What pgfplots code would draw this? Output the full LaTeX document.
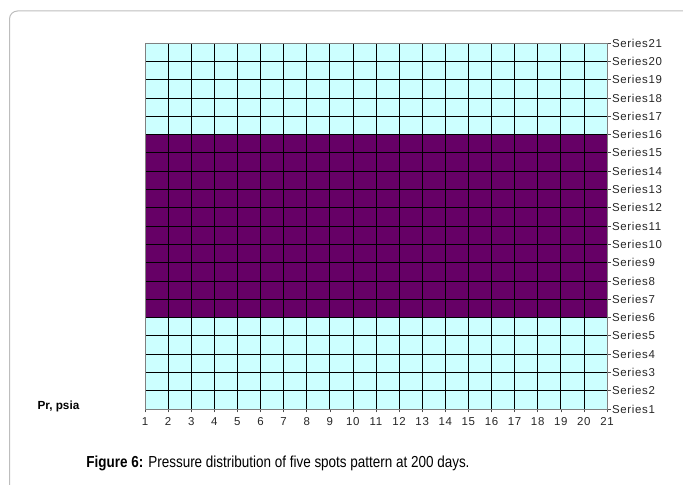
\documentclass[border=0pt]{standalone}
\usepackage{pgfplots}
\pgfplotsset{compat=1.18}
\usepackage{fontspec}
\setmainfont{Liberation Sans}
\newfontfamily\tickfont[LetterSpace=6]{Liberation Sans}
\usepackage{graphicx}
\definecolor{lcyan}{HTML}{CCFFFF}
\definecolor{dpurple}{HTML}{660066}
\definecolor{framegray}{HTML}{BDBDBD}
\begin{document}
\begin{tikzpicture}
\useasboundingbox (0,0) rectangle (683bp,485bp);
\begin{scope}
\clip (0,0) rectangle (683bp,485bp);
\draw[framegray, line width=1bp, rounded corners=8bp] (9.5bp,-10bp) -- (9.5bp,474bp) -- (700bp,474bp);
\end{scope}
\begin{axis}[
  at={(145bp,76bp)}, anchor=south west,
  scale only axis, width=462bp, height=366bp,
  xmin=1, xmax=21, ymin=1, ymax=21,
  xtick={1,...,21}, ytick={1,...,21},
  yticklabels={Series1,Series2,Series3,Series4,Series5,Series6,Series7,Series8,Series9,Series10,Series11,Series12,Series13,Series14,Series15,Series16,Series17,Series18,Series19,Series20,Series21},
  xtick pos=bottom, ytick pos=right,
  yticklabel pos=right,
  tick align=outside, major tick length=3.5bp,
  tick style={black!70, line width=0.6bp},
  axis on top,
  grid=major, major grid style={black, line width=0.65bp},
  axis line style={gray, line width=0.8bp},
  /pgf/number format/assume math mode=true,
  ticklabel style={font=\tickfont\fontsize{11.5}{13}\selectfont, text=black!85, text height=8.3bp, text depth=0bp},
  xticklabel style={yshift=-1bp},
  yticklabel style={xshift=-2bp},
]
\addplot[fill=lcyan, draw=none] coordinates {(1,1) (21,1) (21,21) (1,21) (1,1)};
\addplot[fill=dpurple, draw=none] coordinates {(1,6) (21,6) (21,16) (1,16) (1,6)};
\end{axis}
\node[anchor=west, font=\fontsize{11.8}{13}\selectfont\bfseries] at (34bp,79bp) {Pr, psia};
\node[font=\fontsize{16}{19}\selectfont] at (278bp,22bp) {\scalebox{0.845}[1]{\textbf{Figure 6:} Pressure distribution of five spots pattern at 200 days.}};
\end{tikzpicture}
\end{document}
